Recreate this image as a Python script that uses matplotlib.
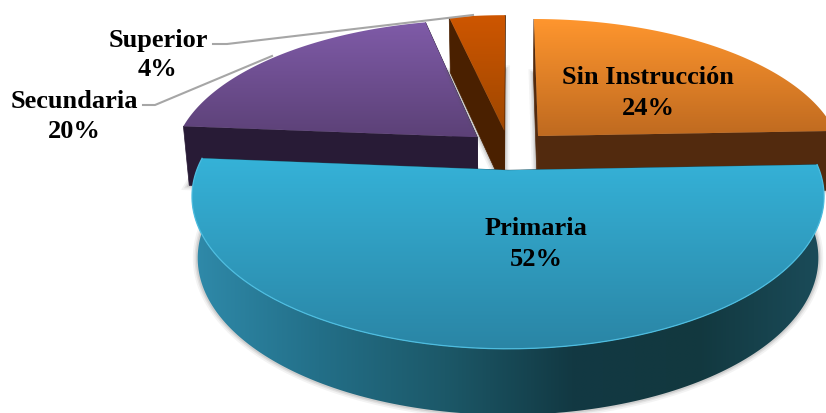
import numpy as np
import matplotlib
matplotlib.use("Agg")
import matplotlib.pyplot as plt
from matplotlib.colors import LinearSegmentedColormap as LSC
from matplotlib.patches import Polygon

categories = ["Sin Instrucción", "Primaria", "Secundaria", "Superior"]
labels_pct = ["24%", "52%", "20%", "4%"]
shares = [24.4, 51.9, 20.2, 3.5]

# projection of the pie plane (pixels)
CX, CY, AX_R, BY_R, K, EXPL, DEPTH, KD = 509, 151, 304, 141, 0.168, 0.14, 60, 0.08
TAPER = 0.982

top_cols = [("#FF962E", "#BF6A20"), ("#35B2D8", "#2A85A5"), ("#7F5BA8", "#5C4177"), ("#CE5600", "#9E4700")]
side_cols = ["#522A0E", "#1A5060", "#281B36", "#4A2000"]

fig = plt.figure(figsize=(8.26, 4.14), dpi=100)
ax = fig.add_axes([0, 0, 1, 1])
ax.set_xlim(0, 826)
ax.set_ylim(414, 0)
ax.axis("off")


def project(X, Y, down=False):
    s = 1 / (1 + K * Y)
    x = CX + AX_R * X * s
    y = CY - BY_R * Y * s
    if down:
        y = y + DEPTH / (1 + KD * Y)
        x = CX + (x - CX) * TAPER
    return np.column_stack([x, y])


def gradient(poly, cols, vertical=True, z=1):
    x0, y0 = poly.min(axis=0)
    x1, y1 = poly.max(axis=0)
    cmap = LSC.from_list("g", cols)
    g = np.linspace(0, 1, 256)
    g = g[:, None] if vertical else g[None, :]
    im = ax.imshow(g, extent=[x0, x1, y1, y0], cmap=cmap, aspect="auto", zorder=z, interpolation="bilinear")
    clip = Polygon(poly, closed=True, transform=ax.transData, fc="none", ec="none")
    ax.add_patch(clip)
    im.set_clip_path(clip)


ax_lim = (ax.get_xlim(), ax.get_ylim())
edges = np.cumsum([0] + shares) / sum(shares) * 2 * np.pi
slices = []
for i in range(len(shares)):
    a0, a1 = edges[i], edges[i + 1]
    mid = (a0 + a1) / 2
    ox, oy = EXPL * np.sin(mid), EXPL * np.cos(mid)
    th = np.linspace(a0, a1, 160)
    X = np.r_[ox, ox + np.sin(th)]
    Y = np.r_[oy, oy + np.cos(th)]
    slices.append((X, Y, th))

order = [2, 3, 0, 1]
z = 2
for i in order:
    X, Y, th = slices[i]
    top = project(X, Y)
    bot = project(X, Y, down=True)
    # soft shadow round the bottom face
    for lw, a in [(7, 0.07), (4.5, 0.1), (2.5, 0.14)]:
        ax.add_patch(Polygon(bot, closed=True, fc="none", ec="#555555", lw=lw, alpha=a, zorder=z))
    z += 1
    # radial faces
    for j in (1, len(X) - 1):
        face = np.vstack([top[0], top[j], bot[j], bot[0]])
        ax.add_patch(Polygon(face, closed=True, fc=side_cols[i], ec=side_cols[i], lw=0.5, zorder=z))
    z += 1
    # outer wall, only the part facing the viewer
    front = np.cos(th) < 0.06
    if front.any():
        t = top[1:][front]
        b = bot[1:][front]
        wall = np.vstack([t, b[::-1]])
        gradient(wall, ["#2F8AAA", "#236F88", "#1C5868", "#123943", "#12383F", "#1B4C5A"], vertical=False, z=z)
    z += 1
    # top face
    gradient(top, list(top_cols[i]), vertical=True, z=z)
    z += 1
    if i == 1:
        ax.plot(top[1:, 0], top[1:, 1], color="#4DBDE0", lw=0.9, zorder=z)
        z += 1

# leader lines
line_col = "#A6A6A6"
ax.plot([213, 227, 473], [45, 45, 16], color=line_col, lw=1.5, zorder=z)
ax.plot([143, 155, 272], [106, 106, 57], color=line_col, lw=1.5, zorder=z)

font = dict(family="Liberation Serif", fontweight="bold", fontsize=19, color="black",
            ha="center", va="center", zorder=z + 1)
positions = [(648, 78, 109), (536, 229, 260), (74, 102, 132), (158, 40, 70)]
for name, pct, (x, y1, y2) in zip(categories, labels_pct, positions):
    ax.text(x, y1, name, **font)
    ax.text(x, y2, pct, **font)

ax.set_xlim(ax_lim[0])
ax.set_ylim(ax_lim[1])
fig.savefig("out.png", dpi=100, facecolor="white")
